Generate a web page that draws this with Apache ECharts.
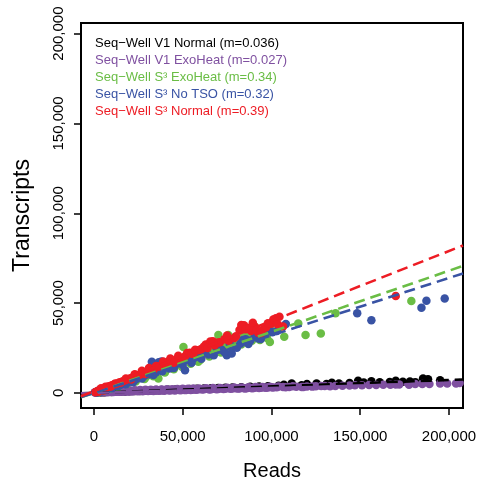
<!DOCTYPE html>
<html><head><meta charset="utf-8">
<script src="https://cdn.jsdelivr.net/npm/echarts@6/dist/echarts.min.js"></script>
<style>html,body{margin:0;padding:0;background:#fff}#c{width:480px;height:486px}</style>
</head><body><div id="c"></div>
<script>
const seriesNames = [
  'Seq\u2212Well V1 Normal (m=0.036)',
  'Seq\u2212Well V1 ExoHeat (m=0.027)',
  'Seq\u2212Well S\u00b3 ExoHeat (m=0.34)',
  'Seq\u2212Well S\u00b3 No TSO (m=0.32)',
  'Seq\u2212Well S\u00b3 Normal (m=0.39)'
];
const seriesColors = ['#000000', '#7F50A0', '#6ABD45', '#3953A4', '#ED1C24'];
const slopes = [0.036, 0.027, 0.34, 0.32, 0.39];
const intercepts = [0, 0, 0, 0, 1000];
const xTicks = [0, 50000, 100000, 150000, 200000];
const yTicks = [0, 50000, 100000, 150000, 200000];
const xRange = [-7300, 207900];
const yRange = [-8400, 205900];

const blackReads = [1500,3000,4500,6000,8000,10000,12500,15000,17500,20000,23000,26000,29000,32000,35000,38000,42000,46000,50000,54000,58000,62000,66000,70000,74000,78000,83000,88000,93000,98000,104000,111400,117000,125400,131000,138000,144000,148800,156300,161000,166600,174000,181000,185400,188200,195000,107000,120000,134000,152000,170000,178000];
const blackTranscripts = [250,300,350,420,480,560,620,700,800,900,1000,1100,1250,1300,1500,1550,1700,1850,2000,2150,2250,2400,2600,2700,2900,3000,3200,3400,3500,3750,4000,5240,4300,5240,5000,5300,5500,6700,6500,5900,6100,6200,6000,8000,7600,7000,4600,4900,5600,5800,6800,6300];

const purpleReads = [500,1200,2000,2800,3600,4500,5500,6500,7500,8500,9500,10500,11500,12500,13500,14500,15500,16500,17500,18500,19500,21000,22500,24000,25500,27000,28500,30000,31500,33000,34500,36000,37500,39000,40500,42000,43500,45000,46500,48000,49500,51000,52500,54000,55500,57000,58500,60000,62000,64000,66000,68000,70000,72000,74000,76000,78000,80000,82000,84000,86000,88000,90000,92000,94000,96000,98000,100000,103000,106500,110000,114000,117000,120000,123000,130000,136000,140000,144000,151000,159000,167000,172000,177500,181000,185000,189000,204000,206000,
  1600,2400,3200,4000,5000,6000,7000,8000,9000,10000,11000,12000,13000,14000,15000,16000,17000,18000,19000,20000,21500,23000,24500,26000,27500,29000,30500,32000,33500,35000,36500,38000,39500,41000,42500,44000,45500,47000,48500,50000,51500,53000,54500,56000,57500,59000,61000,63000,65000,67000,69000,71000,73000,75000,77000,79000,81000,83000,85000,87000,89000,91000,93000,95000,97000,99000,101000,104000,108000,112000,118000,125000,128000,133000,147000,155000,163000,170000,195000,199000];
const purpleTranscripts = [300,500,350,600,450,650,500,700,600,800,650,850,700,900,780,950,850,1000,900,1050,950,1100,1000,1200,1100,1250,1150,1350,1200,1400,1300,1500,1350,1550,1450,1650,1500,1700,1600,1800,1650,1900,1750,2000,1800,2100,1900,2150,2000,2250,2100,2350,2200,2450,2300,2550,2400,2650,2500,2750,2600,2850,2800,2950,2850,3050,2950,3150,3100,3300,3250,3450,3350,3600,3500,3800,3900,4000,4100,4300,4400,4600,4700,4600,4900,5000,5000,5240,5500,
  200,750,300,800,350,900,400,1000,500,1100,550,1150,600,1200,700,1300,750,1350,800,1450,850,1500,900,1600,950,1700,1050,1750,1100,1850,1200,1950,1250,2000,1350,2100,1400,2200,1500,2250,1550,2350,1650,2400,1700,2500,1850,2550,1950,2700,2050,2750,2150,2850,2300,2950,2400,3050,2500,3150,2650,3250,2750,3300,2850,3400,3000,3600,3100,3700,3300,3700,3900,3700,4200,4400,4500,4700,5300,5200];

const greenReads = [1500,3000,4500,6500,8500,10500,12500,14500,17000,19500,22000,24500,27000,29500,32000,34500,36300,38500,41000,43500,46000,48000,50400,53000,55500,58800,61000,63500,66000,68500,70100,72500,75700,78500,81000,84000,87000,90700,93500,96000,99100,99500,104000,107200,115100,119200,127800,136100,178800,
  2500,5500,7500,9500,11500,13500,16000,18500,21000,23500,26000,28500,31000,33500,37500,40000,42500,45000,47000,49500,52000,54500,57000,60000,62500,65000,67500,71500,74000,77000,80000,83000,86000,89000,92000,95000,97500];
const greenTranscripts = [500,900,1400,2000,2700,3300,3900,4500,5400,6200,6900,7700,8600,9200,10200,11300,8000,12600,13400,14400,15700,16300,25600,18400,19500,17300,21300,22300,23400,24200,32200,27000,32200,28300,30000,31300,33200,36800,29400,33600,28400,35000,36000,31200,38700,32200,33100,44300,51100,
  300,1300,2800,2400,4400,3200,6200,5000,7800,6300,9800,7800,11600,9300,13500,11400,15800,13200,16800,14500,18900,16300,20800,18500,22800,20200,24800,22500,26800,24000,29800,27000,32600,29000,34500,31000,30500];

const blueReads = [1000,2000,3200,4500,6000,7500,9000,11000,13000,15000,17000,19000,21000,23500,26000,28500,31000,32600,35000,37500,40000,42500,43900,46000,48500,51300,53500,56000,59000,62000,64500,66400,69000,72000,74800,77600,79500,82500,85500,88000,90500,92600,95000,98200,100500,103000,108100,148300,156300,184500,187300,197600,
  1500,2600,4000,5200,7000,8500,10000,12000,14000,16000,18000,20000,22000,24500,27000,30000,33500,36000,38500,41000,45000,47000,50000,52500,55000,57500,60500,63000,67500,70500,73500,76500,80500,84000,87000,91500,94000,96500,34000,36500,38000,40000];
const blueTranscripts = [300,600,1000,1400,1900,2300,2800,3400,3900,4700,5300,6000,6600,7500,8400,9600,10400,17300,11500,12800,14700,13600,14500,15800,16900,12650,18600,19200,20100,23500,21400,28400,25100,24000,21000,22000,25600,27300,29900,29000,31100,30300,32600,35900,33800,34400,38300,44300,40500,47400,51300,52600,
  200,1400,800,2200,1700,3400,2600,4600,3800,6000,4800,7300,6000,9200,8000,11400,10000,13400,12000,15000,13800,17000,15500,18800,16800,20800,19000,22600,21000,25000,22800,27200,25200,29500,27200,32600,30000,33500,16000,17000,17500,16500];

const redReads = [800,1500,2200,3000,3800,4500,5200,6000,7000,8000,9000,10000,11500,13000,14500,16000,17500,19000,20500,22000,24000,26000,28000,30000,32000,34000,36000,38000,40000,42000,44000,46500,49000,51500,54000,56000,58500,61000,63000,65500,68000,71000,73500,76000,79000,82000,84500,86500,88500,90500,92500,95000,97000,100000,102500,104500,106500,170000,
  2500,4000,5500,6500,9500,12000,15000,18000,21000,23000,25000,27000,29000,31000,33000,35000,37000,39000,41000,43000,45000,47500,50000,52500,55000,57000,60000,62000,64000,67000,70000,75000,80000,83000,85500,87500,89500,91500,94000,98000,101000,103500];
const redTranscripts = [400,800,1100,1500,1700,2100,2300,2700,3100,3500,3700,4300,4800,5300,6000,6400,7100,7600,8200,8800,9600,10300,11000,12000,12600,13500,14600,15200,16200,17500,17000,18700,19300,20600,22400,21800,23800,24700,27000,28600,26500,28200,29800,29000,30500,35000,37700,36000,34500,37000,33500,35000,36500,38500,41500,42400,37000,54000,
  600,2600,1300,3400,3600,5200,5600,8000,7400,10400,9800,12300,10500,13800,12400,15000,14800,17500,15200,19200,16800,20700,19500,22200,21800,24000,24200,25800,25000,28800,28000,32000,31500,37800,35500,36200,39000,35000,33000,38800,40800,38200];

const readsBySeries = [blackReads, purpleReads, greenReads, blueReads, redReads];
const transcriptsBySeries = [blackTranscripts, purpleTranscripts, greenTranscripts, blueTranscripts, redTranscripts];

const FONT = "'Liberation Sans', Arial, Helvetica, sans-serif";
const fmt = v => v.toLocaleString('en-US');

const series = [];
seriesNames.forEach((name, i) => {
  series.push({
    type: 'scatter', name: name,
    data: readsBySeries[i].map((x, k) => [x, transcriptsBySeries[i][k]]),
    symbol: 'circle', symbolSize: 8.5,
    itemStyle: { color: seriesColors[i], opacity: 1 },
    clip: true, z: 2 + i
  });
});
seriesNames.forEach((name, i) => {
  series.push({
    type: 'line', name: name,
    data: xRange.map(x => [x, slopes[i] * x + intercepts[i]]),
    symbol: 'none', clip: true, z: 10 + i,
    lineStyle: { color: seriesColors[i], width: 2.6, type: [11, 6] },
    itemStyle: { color: seriesColors[i] }
  });
});

const chart = echarts.init(document.getElementById('c'), null, { renderer: 'canvas' });
chart.setOption({
  animation: false,
  backgroundColor: '#fff',
  grid: { left: 81, right: 17, top: 23, bottom: 78, show: true, borderColor: '#000', borderWidth: 2, backgroundColor: 'transparent' },
  legend: {
    orient: 'vertical', left: 85, top: 32,
    icon: 'rect', itemWidth: 0, itemHeight: 13, itemGap: 4,
    itemStyle: { opacity: 0 },
    selectedMode: false,
    textStyle: { fontFamily: FONT, fontSize: 13, lineHeight: 13 },
    data: seriesNames.map((n, i) => ({ name: n, textStyle: { color: seriesColors[i] } }))
  },
  xAxis: {
    type: 'value', min: xRange[0], max: xRange[1],
    name: 'Reads', nameLocation: 'middle', nameGap: 53,
    nameTextStyle: { fontFamily: FONT, fontSize: 20, color: '#000' },
    axisLine: { show: false, onZero: false },
    axisTick: { show: true, inside: false, length: 7, customValues: xTicks, lineStyle: { color: '#000', width: 1.5 } },
    axisLabel: { customValues: xTicks, formatter: fmt, margin: 21, fontFamily: FONT, fontSize: 15, color: '#000' },
    splitLine: { show: false }
  },
  yAxis: {
    type: 'value', min: yRange[0], max: yRange[1],
    name: 'Transcripts', nameLocation: 'middle', nameGap: 47, nameRotate: 90,
    nameTextStyle: { fontFamily: FONT, fontSize: 23, color: '#000' },
    axisLine: { show: false, onZero: false },
    axisTick: { show: true, inside: false, length: 7, customValues: yTicks, lineStyle: { color: '#000', width: 1.5 } },
    axisLabel: { customValues: yTicks, formatter: fmt, rotate: 90, margin: 15, fontFamily: FONT, fontSize: 15, color: '#000' },
    splitLine: { show: false }
  },
  series: series
});
</script>
</body></html>
